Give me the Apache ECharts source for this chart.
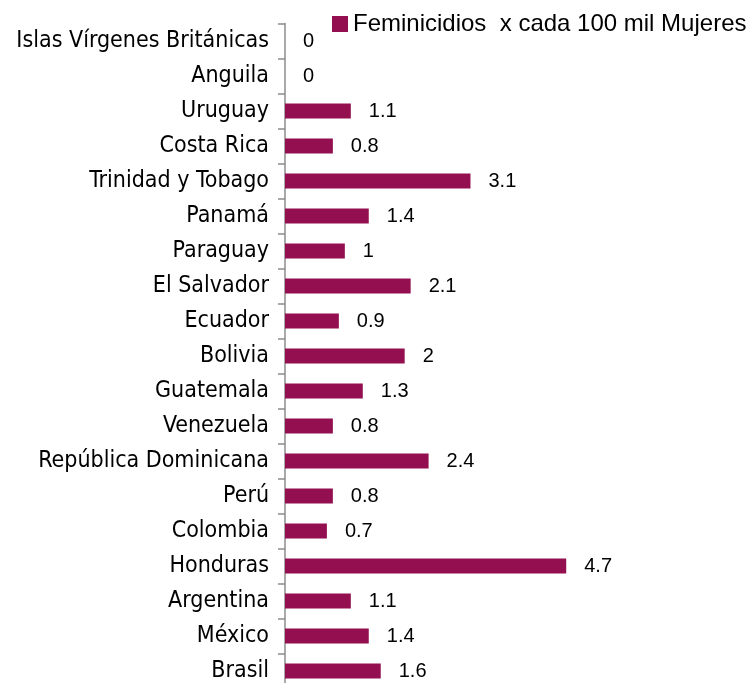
<!DOCTYPE html>
<html>
<head>
<meta charset="utf-8">
<script src="https://cdn.jsdelivr.net/npm/echarts@6/dist/echarts.min.js"></script>
<style>
  html, body { margin: 0; padding: 0; background: #fff; }
  #chart { width: 748px; height: 683px; }
</style>
</head>
<body>
<div id="chart"></div>
<script>
// countries, top to bottom as in the picture
const paises = ['Islas Vírgenes Británicas', 'Anguila', 'Uruguay', 'Costa Rica', 'Trinidad y Tobago',
  'Panamá', 'Paraguay', 'El Salvador', 'Ecuador', 'Bolivia', 'Guatemala', 'Venezuela',
  'República Dominicana', 'Perú', 'Colombia', 'Honduras', 'Argentina', 'México', 'Brasil'];
// feminicidios x cada 100 mil mujeres
const tasa = [0, 0, 1.1, 0.8, 3.1, 1.4, 1, 2.1, 0.9, 2, 1.3, 0.8, 2.4, 0.8, 0.7, 4.7, 1.1, 1.4, 1.6];
const serieNombre = 'Feminicidios  x cada 100 mil Mujeres';

const box = echarts.init(document.getElementById('chart'));
const option = {
  animation: false,
  legend: {
    data: [{ name: serieNombre, icon: 'rect' }],
    left: 327,
    top: 7,
    itemWidth: 16,
    itemHeight: 16,
    itemGap: 8,
    textStyle: { fontFamily: 'Liberation Sans', fontSize: 24, color: '#000' }
  },
  grid: { left: 285, top: 23.5, width: 359, height: 665, outerBoundsMode: 'none' },
  xAxis: {
    type: 'value',
    min: 0,
    max: 6,
    show: false
  },
  yAxis: {
    type: 'category',
    inverse: true,
    data: paises,
    axisLine: { show: true, lineStyle: { color: '#8c8c8c', width: 1.5 } },
    axisTick: { show: true, length: 7, lineStyle: { color: '#8c8c8c', width: 1.5 } },
    axisLabel: {
      margin: 16,
      fontFamily: 'DejaVu Sans Condensed',
      fontSize: 23,
      color: '#000'
    }
  },
  series: [
    {
      name: serieNombre,
      type: 'bar',
      data: tasa,
      barWidth: 15,
      itemStyle: { color: '#930f50' },
      label: {
        show: true,
        position: 'right',
        distance: 18,
        fontFamily: 'Liberation Sans',
        fontSize: 20,
        color: '#000'
      }
    }
  ]
};
box.setOption(option);
</script>
</body>
</html>
